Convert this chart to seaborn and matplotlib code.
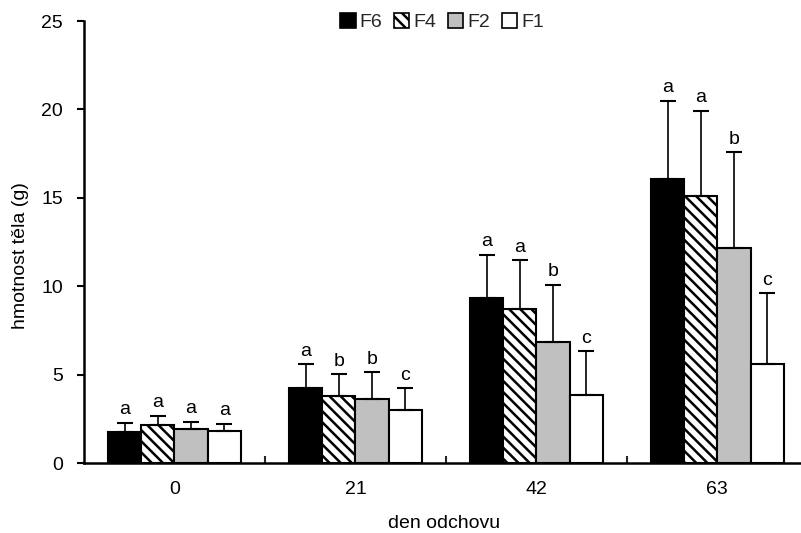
import matplotlib
matplotlib.use("Agg")
import matplotlib.pyplot as plt
import seaborn as sns
import pandas as pd
import numpy as np
from matplotlib.patches import Patch

days = ["0", "21", "42", "63"]
groups = ["F6", "F4", "F2", "F1"]
means = {
    "F6": [1.77, 4.26, 9.33, 16.05],
    "F4": [2.15, 3.79, 8.73, 15.10],
    "F2": [1.91, 3.62, 6.84, 12.18],
    "F1": [1.81, 2.98, 3.85, 5.58],
}
sds = {
    "F6": [0.51, 1.34, 2.45, 4.44],
    "F4": [0.53, 1.24, 2.75, 4.83],
    "F2": [0.43, 1.51, 3.24, 5.39],
    "F1": [0.41, 1.26, 2.48, 4.02],
}
letters = {
    "F6": ["a", "a", "a", "a"],
    "F4": ["a", "b", "a", "a"],
    "F2": ["a", "b", "b", "b"],
    "F1": ["a", "c", "c", "c"],
}

rows = []
for g in groups:
    for i, d in enumerate(days):
        rows.append({"day": d, "group": g, "mean": means[g][i], "sd": sds[g][i]})
df = pd.DataFrame(rows)

sns.set_theme(style="white")
plt.rcParams["font.family"] = ["Liberation Sans Narrow", "Liberation Sans", "DejaVu Sans"]
plt.rcParams["hatch.linewidth"] = 1.8

FS = 14

fig = plt.figure(figsize=(8.01, 5.33), dpi=100)
ax = fig.add_axes([84 / 801, 1 - 463 / 533, 1 - 84 / 801 + 0.004, (463 - 21) / 533])

colors = {"F6": "black", "F4": "white", "F2": "#c0c0c0", "F1": "white"}
sns.barplot(data=df, x="day", y="mean", hue="group", order=days, hue_order=groups,
            palette=colors, width=0.733, gap=0, errorbar=None, edgecolor="black",
            linewidth=1.5, ax=ax, legend=False, saturation=1)

for g, cont in zip(groups, ax.containers):
    for i, bar in enumerate(cont):
        if g == "F4":
            bar.set_hatch("\\\\\\")
        x = bar.get_x() + bar.get_width() / 2
        h = bar.get_height()
        ax.errorbar([x], [h], yerr=[[0], [sds[g][i]]], fmt="none", ecolor="black",
                    elinewidth=1.2, capsize=6, capthick=1.5, zorder=1)
        ax.text(x, h + sds[g][i] + 0.25, letters[g][i], ha="center", va="bottom",
                fontsize=FS, color="black")

ax.set_ylim(0, 25)
ax.set_xlim(-0.5, 3.48)
ax.set_yticks([0, 5, 10, 15, 20, 25])
ax.tick_params(axis="y", direction="out", length=5, width=1.5, labelsize=FS, pad=10, left=True)
ax.tick_params(axis="x", which="major", length=0, labelsize=FS, pad=13)
ax.set_xticks([0.5, 1.5, 2.5], minor=True)
ax.tick_params(axis="x", which="minor", direction="in", length=5, width=1.5, bottom=True)
for s in ["top", "right"]:
    ax.spines[s].set_visible(False)
for s in ["left", "bottom"]:
    ax.spines[s].set_linewidth(1.8)
    ax.spines[s].set_color("black")
ax.tick_params(colors="black")

ax.set_xlabel("den odchovu", fontsize=FS, labelpad=12, color="black")
ax.set_ylabel("hmotnost těla (g)", fontsize=FS, labelpad=9, color="black")
ax.yaxis.label.set_y(0.47)

handles = []
for g in groups:
    handles.append(Patch(facecolor=colors[g], edgecolor="black", linewidth=1.2,
                         hatch="\\\\\\" if g == "F4" else None, label=g))
fig.legend(handles=handles, loc="center", bbox_to_anchor=(442 / 801, 1 - 22 / 533),
           ncol=4, frameon=False, fontsize=FS, handlelength=0.8, handleheight=0.8,
           handletextpad=0.2, columnspacing=0.6, borderpad=0)

fig.savefig("out.png", dpi=100)
